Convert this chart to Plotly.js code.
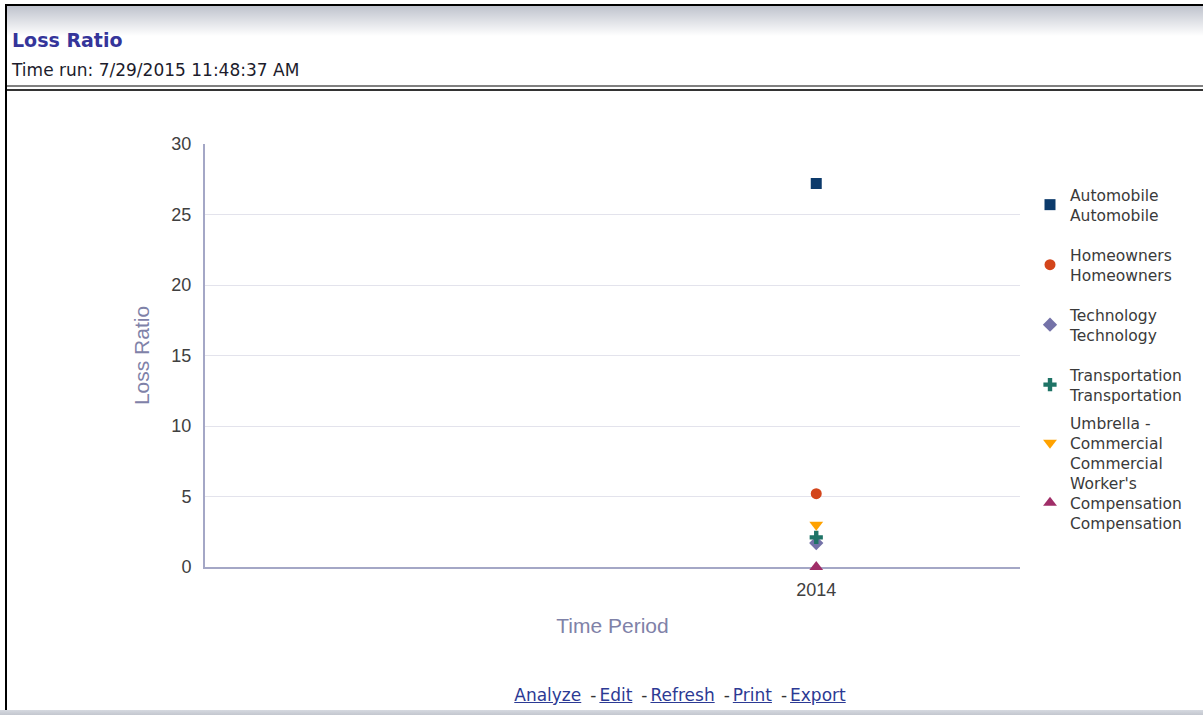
<!DOCTYPE html>
<html>
<head>
<meta charset="utf-8">
<script src="https://cdn.plot.ly/plotly-3.0.1.min.js"></script>
<style>
  html, body { margin: 0; padding: 0; background: #fff; }
  body { width: 1203px; height: 715px; position: relative; overflow: hidden; font-family: "DejaVu Sans", sans-serif; }
  #chart { position: absolute; left: 0; top: 0; width: 1203px; height: 715px; }
  .abs { position: absolute; }
  #topBorder { left: 5px; top: 4px; width: 1198px; height: 2px; background: #000; }
  #leftBorder { left: 5px; top: 4px; width: 2px; height: 706px; background: #000; }
  #headGrad { left: 7px; top: 6px; width: 1196px; height: 30px; background: linear-gradient(#bfc3cd, #ffffff); }
  #title { left: 12px; top: 29px; font-size: 19px; font-weight: bold; color: #35359a; white-space: nowrap; }
  #timerun { left: 12px; top: 60px; font-size: 17px; color: #1c1c2c; white-space: nowrap; }
  #line1 { left: 7px; top: 85px; width: 1196px; height: 2px; background: #808080; }
  #line2 { left: 7px; top: 89px; width: 1196px; height: 2px; background: #333; }
  #bottomBar { left: 0; top: 710px; width: 1203px; height: 5px; background: linear-gradient(#d6d9e0, #c3c7cf); }
  #links { left: 0; top: 685px; width: 1203px; text-align: center; font-size: 17px; color: #333; white-space: nowrap; padding-left: 157px; box-sizing: border-box; }
  #links a { color: #2c3a94; text-decoration: underline; }
  #links .sep { margin: 0 3px 0 9px; }
</style>
</head>
<body>
<div id="chart"></div>
<div class="abs" id="headGrad"></div>
<div class="abs" id="topBorder"></div>
<div class="abs" id="leftBorder"></div>
<div class="abs" id="title">Loss Ratio</div>
<div class="abs" id="timerun">Time run: 7/29/2015 11:48:37 AM</div>
<div class="abs" id="line1"></div>
<div class="abs" id="line2"></div>
<div class="abs" id="links"><a>Analyze</a><span class="sep">-</span><a>Edit</a><span class="sep">-</span><a>Refresh</a><span class="sep">-</span><a>Print</a><span class="sep">-</span><a>Export</a></div>
<div class="abs" id="bottomBar"></div>
<script>
// ---- data ----
const categories = ['2014'];
const seriesNames = [
  'Automobile<br>Automobile',
  'Homeowners<br>Homeowners',
  'Technology<br>Technology',
  'Transportation<br>Transportation',
  'Umbrella -<br>Commercial<br>Commercial',
  "Worker's<br>Compensation<br>Compensation"
];
const automobile = [27.2];
const homeowners = [5.2];
const technology = [1.7];
const transportation = [2.1];
const umbrella = [3.0];
const workersComp = [0];
const yTickVals = [0, 5, 10, 15, 20, 25, 30];

// ---- styles ----
const seriesValues = [automobile, homeowners, technology, transportation, umbrella, workersComp];
const colors = ['#0c3a6b', '#d3451b', '#7472a8', '#1e7366', '#ffa200', '#a02e68'];
const symbols = ['square', 'circle', 'diamond', 'cross', 'triangle-down', 'triangle-up'];
const sizes = [11, 11, 11, 11, 12, 12];
const legendCentersPx = [205, 265, 325, 385, 443, 503];

const H = 715, W = 1203;
const traces = seriesValues.map((vals, i) => ({
  type: 'scatter',
  mode: 'markers',
  x: categories,
  y: vals,
  name: seriesNames[i],
  legend: i === 0 ? 'legend' : 'legend' + (i + 1),
  cliponaxis: false,
  marker: { color: colors[i], symbol: symbols[i], size: sizes[i], line: { width: 0 } },
  hoverinfo: 'x+y+name'
}));

const layout = {
  width: W,
  height: H,
  paper_bgcolor: 'rgba(0,0,0,0)',
  plot_bgcolor: 'rgba(0,0,0,0)',
  margin: { l: 205, r: 183, t: 144, b: 148, pad: 0 },
  font: { family: 'Liberation Sans, Arial, sans-serif', color: '#3a3a3a' },
  xaxis: {
    type: 'category',
    range: [-1.5, 0.5],
    showgrid: false,
    showline: true,
    linecolor: '#a4a7c6',
    linewidth: 2,
    zeroline: false,
    layer: 'below traces',
    ticks: '',
    ticklabelstandoff: 5,
    tickfont: { size: 18, color: '#404040' },
    title: { text: 'Time Period', font: { size: 21, color: '#7f82a8' }, standoff: 20 },
    fixedrange: true
  },
  yaxis: {
    range: [0, 30],
    tickvals: yTickVals,
    showgrid: true,
    gridcolor: '#e3e3ec',
    gridwidth: 1,
    showline: true,
    linecolor: '#a4a7c6',
    linewidth: 2,
    zeroline: false,
    layer: 'below traces',
    ticks: '',
    ticklabelstandoff: 8,
    tickfont: { size: 18, color: '#404040' },
    title: { text: 'Loss Ratio', font: { size: 21, color: '#7f82a8' }, standoff: 16 },
    fixedrange: true
  },
  showlegend: true
};

legendCentersPx.forEach((cy, i) => {
  const key = i === 0 ? 'legend' : 'legend' + (i + 1);
  layout[key] = {
    xref: 'container', yref: 'container',
    x: 1030 / W, xanchor: 'left',
    y: 1 - cy / H, yanchor: 'middle',
    bgcolor: 'rgba(0,0,0,0)',
    borderwidth: 0,
    font: { family: 'DejaVu Sans, sans-serif', size: 15.5, color: '#3a3a3a' },
    itemclick: false, itemdoubleclick: false
  };
});

Plotly.newPlot('chart', traces, layout, { displayModeBar: false, staticPlot: true });
</script>
</body>
</html>
